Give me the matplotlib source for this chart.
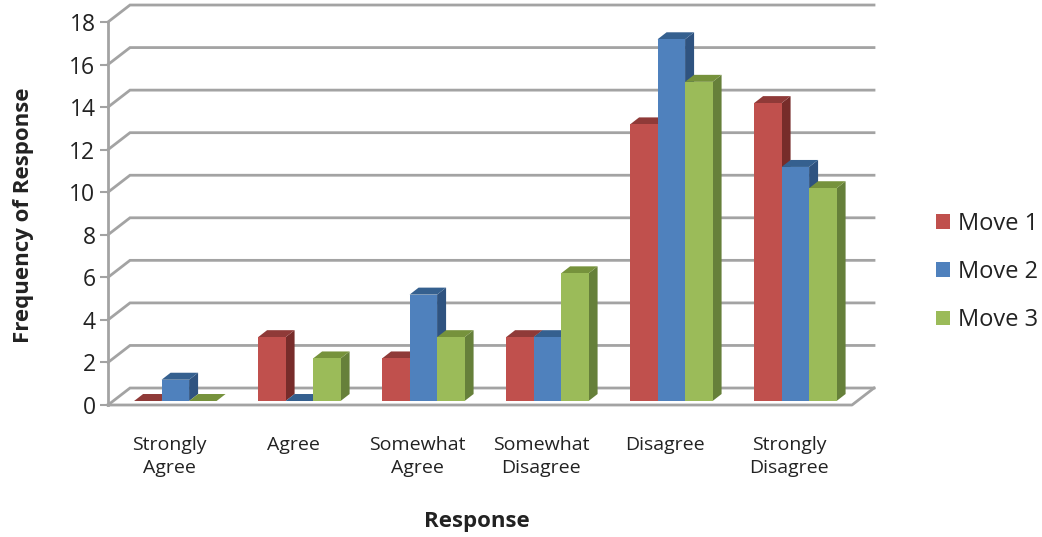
from matplotlib import pyplot as plt
from matplotlib.patches import Polygon
import numpy as np

responses = ['Strongly\nAgree', 'Agree', 'Somewhat\nAgree', 'Somewhat\nDisagree', 'Disagree', 'Strongly\nDisagree']
move_1 = [0, 3, 2, 3, 13, 14]
move_2 = [1, 0, 5, 3, 17, 11]
move_3 = [0, 2, 3, 6, 15, 10]
y_ticks = np.arange(0, 19, 2)

W, H = 1042, 537
plt.rcParams['font.family'] = ['Open Sans', 'DejaVu Sans']

fig = plt.figure(figsize=(W / 100, H / 100), dpi=100)
# axes box is the front wall of the fake 3D chart: 124 px per category, 21.3 px per unit
ax = fig.add_axes([108 / W, 1 - 405 / H, 744 / W, 383 / H])
ax.set_xlim(0, 6)
ax.set_ylim(0, 18)

wall_dx, wall_dy = 22 / 124, 17 / 21.3  # depth of the walls
bar_dx, bar_dy = 9 / 124, 7 / 21.3      # depth of each bar
bar_w = 27.5 / 124
base = 4 / 21.3                         # bars stand a little inside the floor
grid = '#a3a3a3'

for v in y_ticks:
    ax.plot([0, wall_dx, 6 + wall_dx - 0.0], [v, v + wall_dy, v + wall_dy], color=grid, lw=2,
            clip_on=False, zorder=1, solid_joinstyle='miter')
# floor front edge and right corner
ax.plot([0, 6, 6 + wall_dx], [0, 0, wall_dy], color=grid, lw=2, clip_on=False, zorder=1)


def draw_bar(x, value, front, side, top):
    h = value
    y0, y1 = base, base + h
    x1 = x + bar_w
    if h > 0:
        ax.add_patch(Polygon([(x, y0), (x1, y0), (x1, y1), (x, y1)], fc=front, ec='none', clip_on=False, zorder=3))
        ax.add_patch(Polygon([(x1, y0), (x1 + bar_dx, y0 + bar_dy), (x1 + bar_dx, y1 + bar_dy), (x1, y1)],
                             fc=side, ec='none', clip_on=False, zorder=2.5))
    ax.add_patch(Polygon([(x, y1), (x1, y1), (x1 + bar_dx, y1 + bar_dy), (x + bar_dx, y1 + bar_dy)],
                         fc=top, ec='none', clip_on=False, zorder=2.5))


series = [
    ('Move 1', move_1, '#c0504d', '#772c2a', '#8f3a38', -1),
    ('Move 2', move_2, '#4f81bd', '#2f5380', '#35608f', 0),
    ('Move 3', move_3, '#9bbb59', '#66803a', '#76923c', 1),
]
handles = []
for name, values, front, side, top, k in series:
    for i, value in enumerate(values):
        draw_bar(i + 0.543 - bar_w / 2 + k * bar_w, value, front, side, top)
    handles.append(Polygon([(0, 0)], fc=front, ec='none', label=name))

for s in ['top', 'right', 'bottom']:
    ax.spines[s].set_visible(False)
ax.spines['left'].set_color(grid)
ax.spines['left'].set_linewidth(2)

ax.set_yticks(y_ticks)
ax.tick_params(axis='y', length=6, width=1.5, color=grid, labelsize=16.5, pad=3, labelcolor='#222222')
ax.set_xticks(np.arange(6) + 0.5 - 0.005)
ax.set_xticklabels(responses, fontsize=14, color='#222222', linespacing=1.42)
ax.tick_params(axis='x', length=0, pad=22)

ax.set_xlabel('Response', fontsize=16, fontweight='bold', color='#222222')
ax.xaxis.set_label_coords((477 - 108) / 744, (405 - 511) / 383)
ax.set_ylabel('Frequency of Response', fontsize=16, fontweight='bold', color='#222222')
ax.yaxis.set_label_coords((34 - 108) / 744, (405 - 215) / 383)

fig.legend(handles=handles, loc='center left', bbox_to_anchor=(936 / W, 1 - 272 / H), frameon=False,
           fontsize=17, handlelength=0.59, handleheight=0.59, handletextpad=0.33, labelspacing=1.03,
           labelcolor='#222222', borderpad=0, borderaxespad=0)

fig.savefig('out.png', dpi=100)
